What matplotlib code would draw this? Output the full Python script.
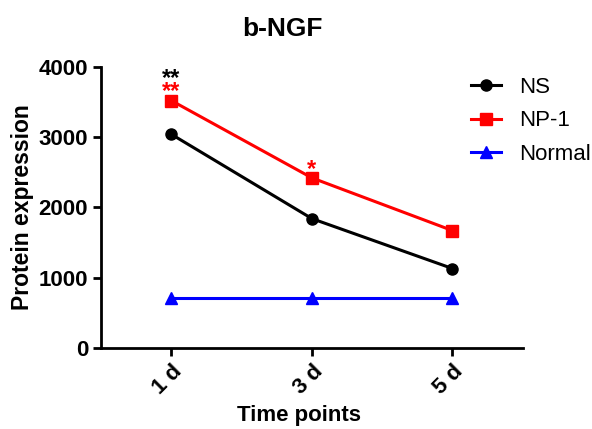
import matplotlib
matplotlib.use("Agg")
import matplotlib.pyplot as plt

plt.rcParams['font.family'] = ['Liberation Sans', 'DejaVu Sans']

time_points = ["1 d", "3 d", "5 d"]
ns = [3040, 1840, 1130]
np1 = [3520, 2420, 1670]
normal = [710, 710, 710]

fig = plt.figure(figsize=(5.92, 4.29), dpi=100)
ax = fig.add_axes([0.171, 0.189, 0.712, 0.655])

x = range(len(time_points))
ax.plot(x, ns, color='black', marker='o', markersize=8, lw=2.2, label='NS', clip_on=False)
ax.plot(x, np1, color='red', marker='s', markersize=8, lw=2.2, label='NP-1', clip_on=False)
ax.plot(x, normal, color='blue', marker='^', markersize=9, lw=2.2, label='Normal', clip_on=False)

# significance marks
ax.text(0, 3560, "**", color='red', ha='center', va='baseline', fontsize=17, fontweight='bold')
ax.text(0, 3745, "**", color='black', ha='center', va='baseline', fontsize=17, fontweight='bold')
ax.text(1, 2440, "*", color='red', ha='center', va='baseline', fontsize=17, fontweight='bold')

ax.set_xlim(-0.5, 2.5)
ax.set_ylim(0, 4000)
ax.set_yticks([0, 1000, 2000, 3000, 4000])
ax.set_xticks(list(x))
ax.set_xticklabels(time_points, rotation=45, ha='right', rotation_mode='anchor')

for s in ['top', 'right']:
    ax.spines[s].set_visible(False)
for s in ['left', 'bottom']:
    ax.spines[s].set_linewidth(2)
ax.tick_params(width=2, length=6, labelsize=16)
for lab in ax.get_xticklabels() + ax.get_yticklabels():
    lab.set_fontweight('bold')

ax.set_xlabel("Time points", fontsize=16, fontweight='bold')
ax.set_ylabel("Protein expression", fontsize=16.5, fontweight='bold')
ax.xaxis.set_label_coords(0.47, -0.203)
ax.yaxis.set_label_coords(-0.16, 0.5)
ax.set_title("b-NGF", fontsize=19, fontweight='bold', pad=22, x=0.429)

fig.legend(loc='upper left', bbox_to_anchor=(0.762, 0.867), frameon=False, fontsize=16,
           handlelength=1.35, labelspacing=0.55)

fig.savefig("out.png", dpi=100)
